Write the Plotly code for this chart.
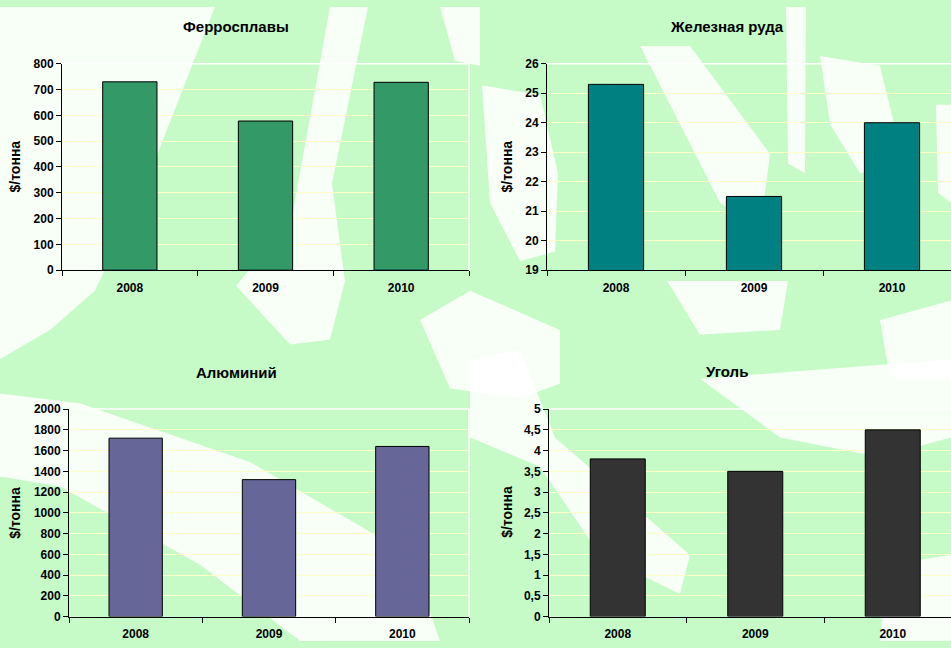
import plotly.graph_objects as go

years = ["2008", "2009", "2010"]
ferro = [730, 578, 728]
iron = [25.3, 21.5, 24.0]
alu = [1720, 1320, 1640]
coal = [3.8, 3.5, 4.5]
titles = ["Ферросплавы", "Железная руда", "Алюминий", "Уголь"]
ytitle = "$/тонна"
colors = ["#339966", "#008080", "#666699", "#333333"]

W, H = 951, 648
FONT = "Liberation Sans, Arial, sans-serif"


def px(x):
    return x / W


def py(y):
    return 1 - y / H


panels = [
    dict(vals=ferro, x0=62, x1=469, top=58, bot=269, xr=[-0.5, 2.5], yr=[0, 800], dt=100,
         tx=236, ty=20, ax=15, ay=163, border=True),
    dict(vals=iron, x0=547, x1=951, top=58, bot=269, xr=[-0.5, -0.5 + 404 / 138], yr=[19, 26], dt=1,
         tx=727, ty=20, ax=507, ay=163, border=False),
    dict(vals=alu, x0=69, x1=469, top=411, bot=623, xr=[-0.5, 2.5], yr=[0, 2000], dt=200,
         tx=236, ty=374, ax=15, ay=517, border=True),
    dict(vals=coal, x0=549, x1=951, top=411, bot=623, xr=[-0.5, -0.5 + 402 / 137.5], yr=[0, 5], dt=0.5,
         tx=727, ty=373, ax=507, ay=516, border=False),
]

fig = go.Figure()
shapes = []
annotations = []

# decorative background (white patches on light green)
white_patches = [
    [(0, 0), (215, 0), (150, 170), (95, 290), (50, 330), (0, 360)],
    [(330, 0), (368, 0), (332, 180), (345, 280), (330, 340), (290, 345), (236, 285), (292, 215)],
    [(440, 0), (480, 0), (480, 60), (455, 55)],
    [(420, 320), (470, 290), (560, 330), (560, 385), (520, 400), (450, 390)],
    [(0, 395), (80, 405), (250, 465), (410, 560), (440, 648), (300, 648), (200, 570), (60, 490), (0, 480)],
    [(482, 80), (540, 90), (558, 170), (555, 250), (520, 260), (490, 200)],
    [(640, 40), (690, 40), (770, 150), (760, 230), (720, 200)],
    [(786, 0), (806, 0), (805, 170), (788, 160)],
    [(820, 50), (880, 60), (905, 165), (860, 170), (830, 120)],
    [(936, 100), (951, 100), (951, 200), (938, 190)],
    [(667, 280), (788, 280), (780, 330), (700, 335)],
    [(880, 320), (951, 300), (951, 380), (890, 380)],
    [(470, 360), (520, 350), (555, 440), (690, 560), (680, 600), (600, 560), (540, 470), (470, 440)],
    [(700, 380), (951, 360), (951, 440), (880, 460), (780, 440)],
    [(887, 570), (951, 560), (951, 648), (880, 648)],
]
for poly in white_patches:
    path = "M " + " L ".join(f"{px(x):.4f},{py(y):.4f}" for x, y in poly) + " Z"
    shapes.append(dict(type="path", path=path, xref="paper", yref="paper",
                       fillcolor="rgba(255,255,255,0.85)", line=dict(width=0), layer="below"))

for i, p in enumerate(panels):
    n = "" if i == 0 else str(i + 1)
    xa, ya = "x" + n, "y" + n
    fig.add_trace(go.Bar(x=years, y=p["vals"], xaxis=xa, yaxis=ya, width=0.4,
                         marker=dict(color=colors[i], line=dict(color="#000000", width=1)),
                         showlegend=False, hoverinfo="x+y"))
    axfont = dict(family=FONT, size=12, color="#000000", weight="bold")
    fig.update_layout(**{
        "xaxis" + n: dict(domain=[px(p["x0"]), px(p["x1"])], anchor=ya, range=p["xr"],
                          type="category", showgrid=False, showline=True, linecolor="#000000",
                          linewidth=1, ticks="outside", ticklen=5, tickcolor="#000000",
                          tickson="boundaries", tickfont=axfont, ticklabelstandoff=6,
                          fixedrange=True, zeroline=False),
        "yaxis" + n: dict(domain=[py(p["bot"]), py(p["top"])], anchor=xa, range=p["yr"],
                          dtick=p["dt"], tick0=p["yr"][0], showgrid=True, gridcolor="#ffffc8",
                          gridwidth=1, showline=True, linecolor="#000000", linewidth=1,
                          ticks="outside", ticklen=5, tickcolor="#000000", tickfont=axfont,
                          zeroline=False, fixedrange=True),
    })
    # white top / right border of plot area
    shapes.append(dict(type="line", xref=xa + " domain", yref=ya + " domain", x0=0, x1=1, y0=1, y1=1,
                       line=dict(color="#ffffff", width=1.5)))
    if p["border"]:
        shapes.append(dict(type="line", xref=xa + " domain", yref=ya + " domain", x0=1, x1=1, y0=0, y1=1,
                           line=dict(color="#ffffff", width=1.5)))
    annotations.append(dict(text=titles[i], x=px(p["tx"]), y=py(p["ty"]), xref="paper", yref="paper",
                            showarrow=False, xanchor="center", yanchor="middle",
                            font=dict(family=FONT, size=15, color="#000000", weight="bold")))
    annotations.append(dict(text=ytitle, x=px(p["ax"]), y=py(p["ay"]), xref="paper", yref="paper",
                            showarrow=False, xanchor="center", yanchor="middle", textangle=-90,
                            font=dict(family=FONT, size=14, color="#000000", weight="bold")))

fig.update_layout(width=W, height=H, margin=dict(l=0, r=0, t=0, b=0),
                  paper_bgcolor="#c6fac6", plot_bgcolor="rgba(0,0,0,0)",
                  separators=", ", shapes=shapes, annotations=annotations,
                  bargap=0.6)

fig.write_html("out.html", config={"displayModeBar": False})
